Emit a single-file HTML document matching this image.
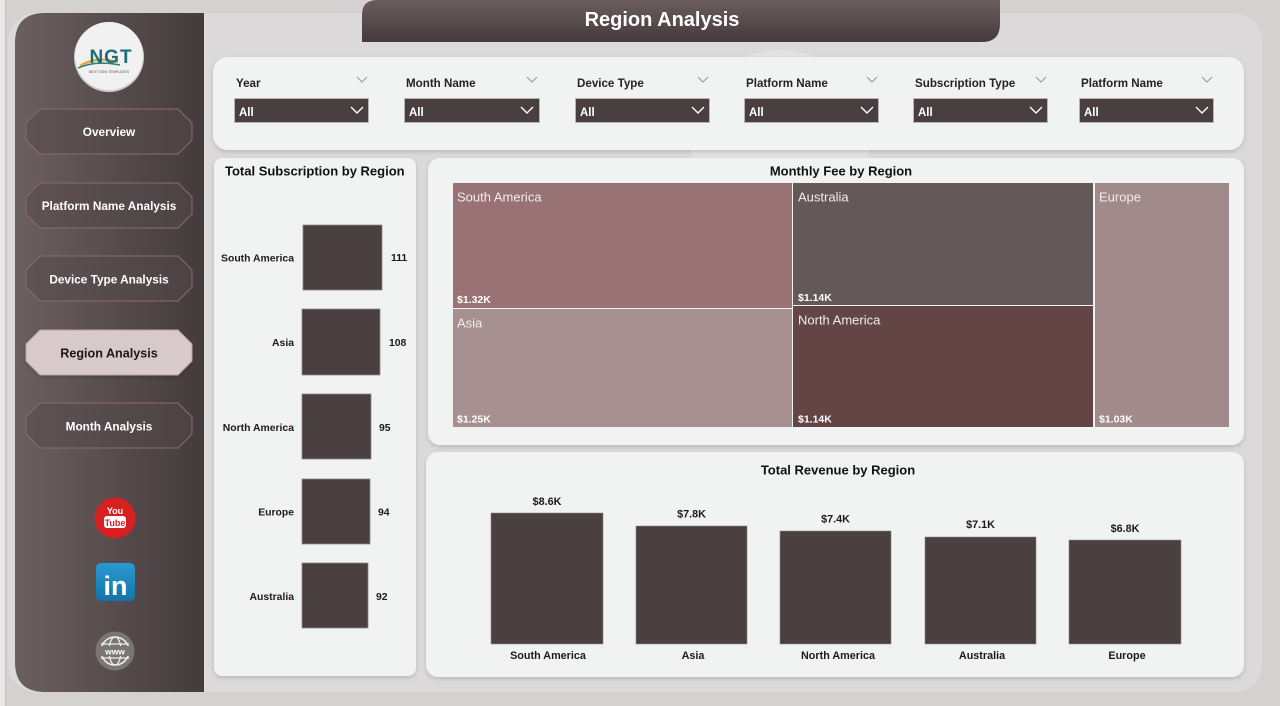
<!DOCTYPE html>
<html><head><meta charset="utf-8"><style>
html,body{margin:0;padding:0;background:#d5d1d1;}
svg{display:block;}
text{font-family:"Liberation Sans",Arial,sans-serif;}
</style></head><body>
<svg width="1280" height="706" viewBox="0 0 1280 706" xmlns="http://www.w3.org/2000/svg">
<defs>
<linearGradient id="sb" x1="0" y1="0" x2="1" y2="0">
<stop offset="0" stop-color="#6c5f60"/><stop offset="1" stop-color="#443b3c"/>
</linearGradient>
<linearGradient id="tab" x1="0" y1="0" x2="0" y2="1">
<stop offset="0" stop-color="#6b5d5d"/><stop offset="1" stop-color="#453b3c"/>
</linearGradient>
<linearGradient id="li" x1="0" y1="0" x2="0" y2="1">
<stop offset="0" stop-color="#2b9ad2"/><stop offset="1" stop-color="#1474a8"/>
</linearGradient>
<filter id="sh" x="-5%" y="-5%" width="110%" height="115%">
<feDropShadow dx="0" dy="2" stdDeviation="2" flood-color="#000" flood-opacity="0.15"/>
</filter>
<clipPath id="panelclip"><rect x="8" y="13" width="1254" height="679" rx="28"/></clipPath>
</defs>

<!-- background -->
<rect x="0" y="0" width="1280" height="706" fill="#d5d1d1"/>
<rect x="0" y="0" width="5" height="706" fill="#e9e7e7"/>
<rect x="5" y="0" width="1" height="706" fill="#c7c3c3"/>
<rect x="8" y="13" width="1254" height="679" rx="28" fill="#dbd9d9"/>
<g clip-path="url(#panelclip)" opacity="0.35">
<circle cx="330" cy="330" r="75" fill="#f6f6f6"/>
<circle cx="780" cy="140" r="90" fill="#f4f4f4"/>
</g>

<!-- sidebar -->
<path d="M45,13 L204,13 L204,692 L45,692 Q15,692 15,662 L15,43 Q15,13 45,13 Z" fill="url(#sb)"/>

<!-- logo -->
<circle cx="109" cy="57" r="35" fill="#cfcccc"/>
<circle cx="109" cy="56" r="34" fill="#f1f1f1"/>
<path d="M80,66 Q95,56 118,62" stroke="#e8a93a" stroke-width="2.5" fill="none"/>
<path d="M78,68 Q96,60 120,65" stroke="#2a7a86" stroke-width="1.5" fill="none"/>
<text x="111" y="63" text-anchor="middle" font-size="19" font-weight="bold" fill="#1d6c78" letter-spacing="1">NGT</text>
<text x="109" y="73" text-anchor="middle" font-size="3.6" fill="#555">NEXT GEN TEMPLATES</text>

<!-- nav buttons -->
<g stroke="#8e6b6c" stroke-width="1" fill="#534849" fill-opacity="0.5">
<polygon points="40,109 178,109 192,123 192,140 178,154 40,154 26,140 26,123"/>
<polygon points="40,183 178,183 192,197 192,214 178,228 40,228 26,214 26,197"/>
<polygon points="40,256 178,256 192,270 192,287 178,301 40,301 26,287 26,270"/>
<polygon points="40,403 178,403 192,417 192,434 178,448 40,448 26,434 26,417"/>
</g>
<polygon points="40,330 178,330 192,344 192,361 178,375 40,375 26,361 26,344" fill="#d8c9cb" stroke="#bfa3a5" stroke-width="1" filter="url(#sh)"/>
<g font-size="11.8" font-weight="bold" fill="#ffffff" text-anchor="middle">
<text x="109" y="136">Overview</text>
<text x="109" y="210">Platform Name Analysis</text>
<text x="109" y="283.5">Device Type Analysis</text>
<text x="109" y="430.5">Month Analysis</text>
</g>
<text x="109" y="357.5" font-size="12.6" font-weight="bold" fill="#1c1818" text-anchor="middle">Region Analysis</text>

<!-- social icons -->
<circle cx="115" cy="518" r="20.5" fill="#d62021"/>
<text x="115" y="514" font-size="9" font-weight="bold" fill="#fff" text-anchor="middle">You</text>
<rect x="104" y="516" width="22" height="12" rx="3" fill="#fff"/>
<text x="115" y="526" font-size="9" font-weight="bold" fill="#d62021" text-anchor="middle">Tube</text>

<rect x="96" y="563" width="39" height="38" rx="5" fill="url(#li)"/>
<text x="115.5" y="595" font-size="27" font-weight="bold" fill="#fff" text-anchor="middle">in</text>

<circle cx="115" cy="651" r="19.5" fill="#7b7576"/>
<circle cx="115" cy="651" r="14" fill="none" stroke="#eee" stroke-width="1.6"/>
<ellipse cx="115" cy="651" rx="6" ry="14" fill="none" stroke="#eee" stroke-width="1.3"/>
<line x1="101" y1="644" x2="129" y2="644" stroke="#eee" stroke-width="1.2"/>
<line x1="101" y1="658" x2="129" y2="658" stroke="#eee" stroke-width="1.2"/>
<rect x="100" y="646" width="30" height="10" fill="#7b7576"/>
<text x="115" y="654.5" font-size="8.5" font-weight="bold" fill="#fff" text-anchor="middle">www</text>

<!-- title tab -->
<path d="M362,42 L362,15 Q362,0 377,0 L1000,0 L1000,24 Q1000,42 982,42 Z" fill="url(#tab)"/>
<text x="662" y="26" font-size="20" font-weight="bold" fill="#ffffff" text-anchor="middle">Region Analysis</text>

<!-- filter panel -->
<rect x="213" y="57" width="1031" height="93" rx="15" fill="#f1f2f2" filter="url(#sh)"/>
<g font-size="11.6" font-weight="bold" fill="#252222">
<text x="236" y="87">Year</text>
<text x="406" y="87">Month Name</text>
<text x="577" y="87">Device Type</text>
<text x="746" y="87">Platform Name</text>
<text x="915" y="87">Subscription Type</text>
<text x="1081" y="87">Platform Name</text>
</g>
<g fill="none" stroke="#9a9697" stroke-width="1">
<polyline points="357,77 362,82 367,77"/>
<polyline points="527,77 532,82 537,77"/>
<polyline points="698,77 703,82 708,77"/>
<polyline points="867,77 872,82 877,77"/>
<polyline points="1036,77 1041,82 1046,77"/>
<polyline points="1202,77 1207,82 1212,77"/>
</g>
<g fill="#4a3f40" stroke="#b9b4b5" stroke-width="1">
<rect x="234.5" y="98.5" width="134" height="24"/>
<rect x="404.5" y="98.5" width="135" height="24"/>
<rect x="575.5" y="98.5" width="134" height="24"/>
<rect x="744.5" y="98.5" width="134" height="24"/>
<rect x="913.5" y="98.5" width="134" height="24"/>
<rect x="1079.5" y="98.5" width="134" height="24"/>
</g>
<g font-size="11.5" font-weight="bold" fill="#ffffff">
<text x="239" y="116">All</text>
<text x="409" y="116">All</text>
<text x="580" y="116">All</text>
<text x="749" y="116">All</text>
<text x="918" y="116">All</text>
<text x="1084" y="116">All</text>
</g>
<g fill="none" stroke="#ffffff" stroke-width="1.4">
<polyline points="351,107 357,113 363,107"/>
<polyline points="521,107 527,113 533,107"/>
<polyline points="692,107 698,113 704,107"/>
<polyline points="861,107 867,113 873,107"/>
<polyline points="1030,107 1036,113 1042,107"/>
<polyline points="1196,107 1202,113 1208,107"/>
</g>

<!-- subscription card -->
<rect x="214" y="158" width="202" height="518" rx="8" fill="#f1f2f2" filter="url(#sh)"/>
<text x="225" y="175.5" font-size="13" font-weight="bold" fill="#111">Total Subscription by Region</text>
<g fill="#4a4041" stroke="#8e8889" stroke-width="0.8">
<rect x="303" y="225" width="79" height="65"/>
<rect x="302" y="309" width="78" height="66"/>
<rect x="302" y="394" width="69" height="65"/>
<rect x="302" y="479" width="68" height="65"/>
<rect x="302" y="563" width="66" height="65"/>
</g>
<g font-size="10.4" font-weight="bold" fill="#1e1a1a" text-anchor="end">
<text x="294" y="261.5">South America</text>
<text x="294" y="346">Asia</text>
<text x="294" y="431">North America</text>
<text x="294" y="515.5">Europe</text>
<text x="294" y="600">Australia</text>
</g>
<g font-size="10.4" font-weight="bold" fill="#1e1a1a">
<text x="391" y="261">111</text>
<text x="389" y="346">108</text>
<text x="379" y="431">95</text>
<text x="378" y="515.5">94</text>
<text x="376" y="600">92</text>
</g>

<!-- treemap card -->
<rect x="428" y="158" width="816" height="287" rx="12" fill="#f1f2f2" filter="url(#sh)"/>
<text x="841" y="175.5" font-size="13" font-weight="bold" fill="#111" text-anchor="middle">Monthly Fee by Region</text>
<rect x="453" y="183" width="339" height="125" fill="#987274"/>
<rect x="453" y="309" width="339" height="118" fill="#a69091"/>
<rect x="793" y="183" width="300" height="122" fill="#645858"/>
<rect x="793" y="306" width="300" height="121" fill="#634546"/>
<rect x="1095" y="183" width="134" height="244" fill="#a08a8b"/>
<g font-size="13" fill="#f3ecec">
<text x="457" y="201.5">South America</text>
<text x="457" y="327.5">Asia</text>
<text x="798" y="201.5">Australia</text>
<text x="798" y="324.5">North America</text>
<text x="1099" y="201.5">Europe</text>
</g>
<g font-size="10.5" font-weight="bold" fill="#ffffff">
<text x="457" y="303">$1.32K</text>
<text x="457" y="422.5">$1.25K</text>
<text x="798" y="301">$1.14K</text>
<text x="798" y="422.5">$1.14K</text>
<text x="1099" y="422.5">$1.03K</text>
</g>

<!-- revenue card -->
<rect x="426" y="452" width="818" height="225" rx="12" fill="#f1f2f2" filter="url(#sh)"/>
<text x="838" y="474.5" font-size="13" font-weight="bold" fill="#111" text-anchor="middle">Total Revenue by Region</text>
<g fill="#4a4041" stroke="#8e8889" stroke-width="0.6">
<rect x="491" y="513" width="112" height="131"/>
<rect x="636" y="526" width="111" height="118"/>
<rect x="780" y="531" width="111" height="113"/>
<rect x="925" y="537" width="111" height="107"/>
<rect x="1069" y="540" width="112" height="104"/>
</g>
<g font-size="10.8" font-weight="bold" fill="#1e1a1a" text-anchor="middle">
<text x="547" y="505">$8.6K</text>
<text x="691.5" y="517.5">$7.8K</text>
<text x="835.5" y="522.5">$7.4K</text>
<text x="980.5" y="528">$7.1K</text>
<text x="1125" y="532">$6.8K</text>
<text x="548" y="659">South America</text>
<text x="693" y="659">Asia</text>
<text x="838" y="659">North America</text>
<text x="982" y="659">Australia</text>
<text x="1127" y="659">Europe</text>
</g>
</svg>
</body></html>
